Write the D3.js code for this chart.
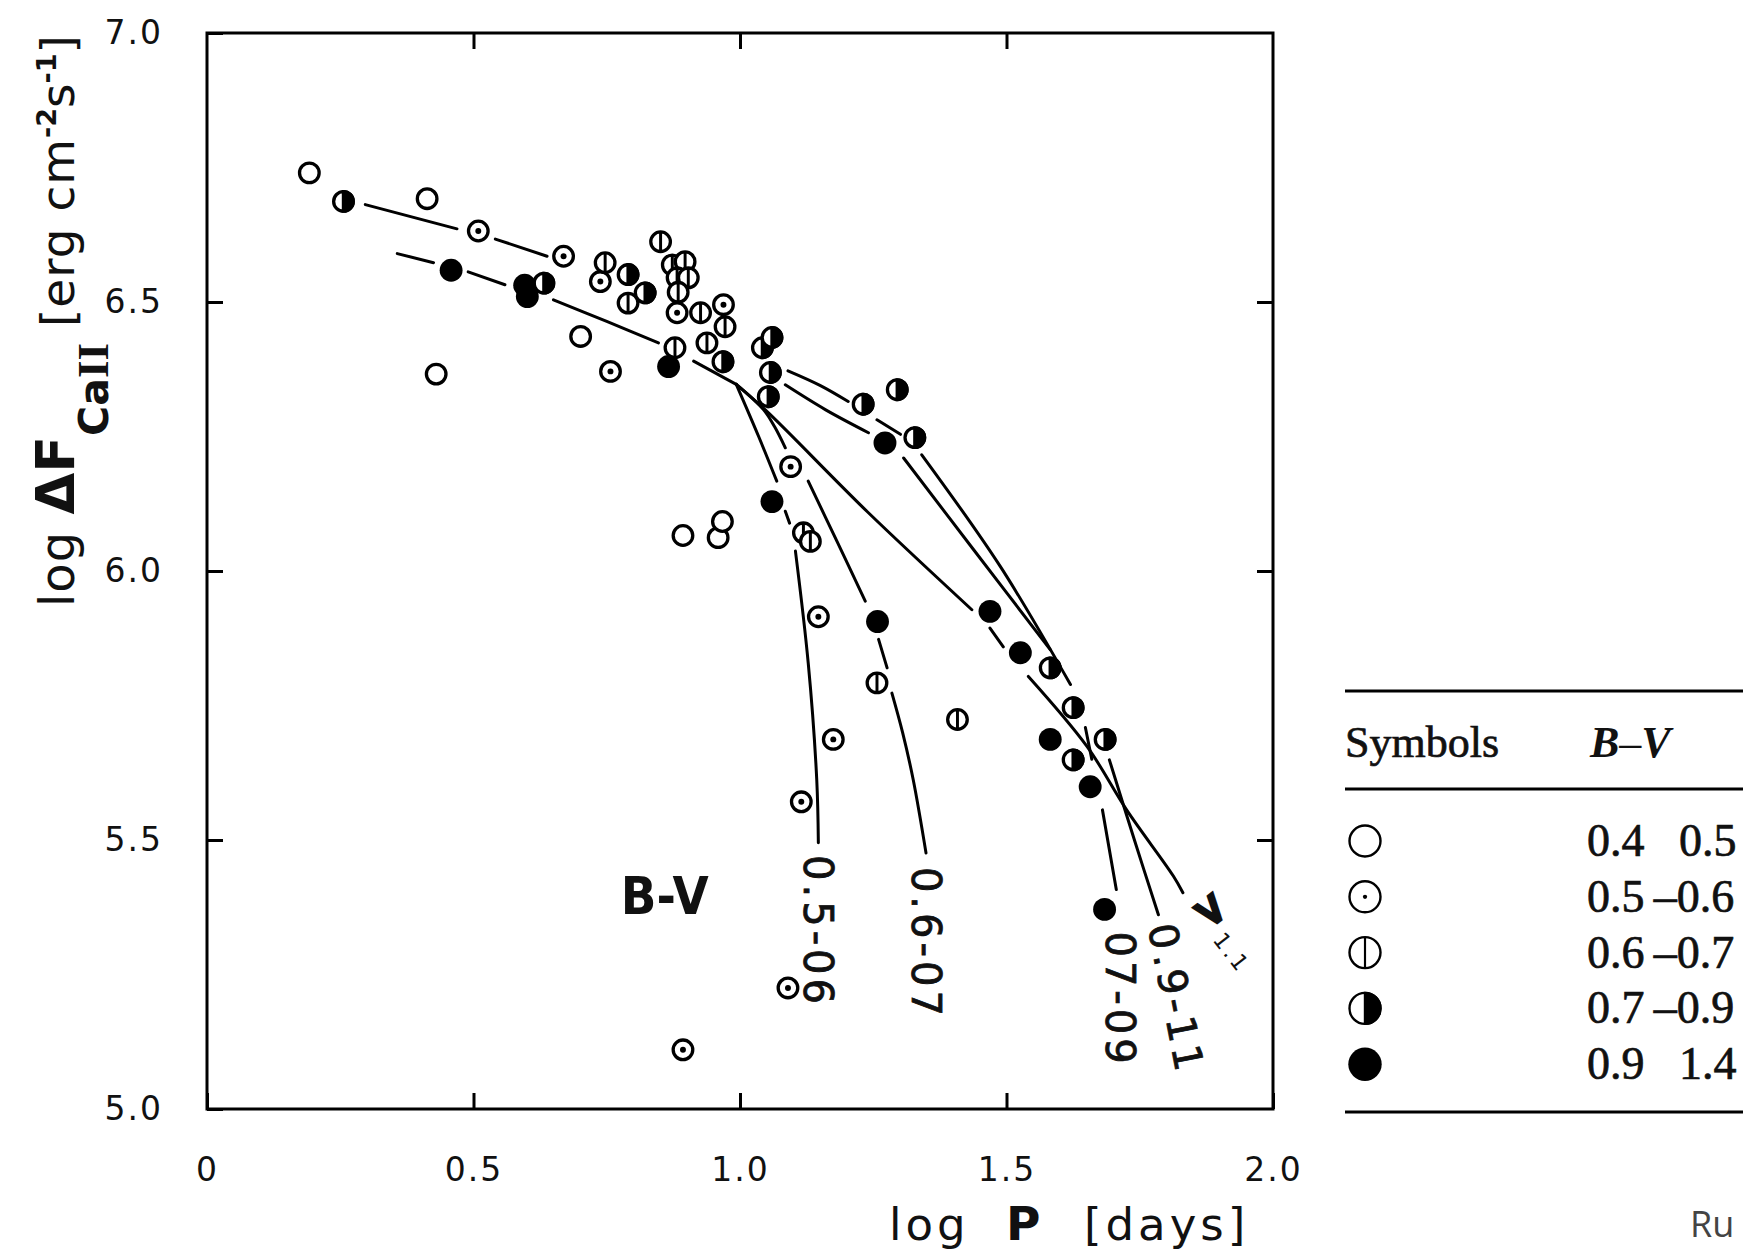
<!DOCTYPE html>
<html>
<head>
<meta charset="utf-8">
<script src="https://cdn.jsdelivr.net/npm/d3@7"></script>
<style>
  body { margin: 0; background: #fff; }
  svg { display: block; }
</style>
</head>
<body>
<svg class="chart" width="1743" height="1254"></svg>
<script>

// axis ticks
var xTicks = [0, 0.5, 1.0, 1.5, 2.0];
var xTickLabels = ["0", "0.5", "1.0", "1.5", "2.0"];
var yTicks = [5.0, 5.5, 6.0, 6.5, 7.0];
var yTickLabels = ["5.0", "5.5", "6.0", "6.5", "7.0"];

// stars, one list per B-V class, as [log P, log dF(CaII)]
var open0405 = [[0.192, 6.740], [0.413, 6.692], [0.430, 6.366], [0.701, 6.436],
                [0.893, 6.066], [0.959, 6.062], [0.967, 6.092]];
var dot0506 = [[0.509, 6.632], [0.669, 6.585], [0.757, 6.371], [0.738, 6.538],
               [0.882, 6.480], [0.969, 6.495], [1.095, 6.194], [1.147, 5.915],
               [1.175, 5.687], [1.115, 5.571], [1.090, 5.225], [0.893, 5.110]];
var bar0607 = [[0.747, 6.573], [0.851, 6.612], [0.873, 6.569], [0.897, 6.575],
               [0.882, 6.545], [0.903, 6.545], [0.884, 6.518], [0.790, 6.498],
               [0.926, 6.480], [0.972, 6.454], [0.938, 6.424], [0.878, 6.415],
               [1.119, 6.071], [1.132, 6.055], [1.257, 5.792], [1.408, 5.724]];
var half0709 = [[0.256, 6.687], [0.632, 6.535], [0.790, 6.551], [0.822, 6.517],
                [0.968, 6.389], [1.042, 6.415], [1.053, 6.324], [1.057, 6.369],
                [1.060, 6.434], [1.231, 6.310], [1.295, 6.337], [1.328, 6.248],
                [1.582, 5.820], [1.625, 5.746], [1.625, 5.649], [1.685, 5.687]];
var full0914 = [[0.458, 6.559], [0.596, 6.531], [0.601, 6.510], [0.866, 6.380],
                [1.272, 6.238], [1.060, 6.129], [1.258, 5.906], [1.469, 5.925],
                [1.526, 5.848], [1.582, 5.687], [1.657, 5.599], [1.684, 5.371]];

// drawn relations, null = a break in the line
var lineUpper = [[0.297, 6.681], [0.469, 6.636], null, [0.541, 6.617], [0.638, 6.585]];
var lineMain = [[0.357, 6.590], [0.425, 6.573], null, [0.490, 6.556], [0.559, 6.532], null,
                [0.650, 6.504], [0.750, 6.464], [0.847, 6.424], null,
                [0.913, 6.390], [0.950, 6.370], [0.993, 6.347]];
var line0506 = [[0.993, 6.347], [1.035, 6.250], [1.069, 6.167], null,
                [1.085, 6.111], [1.093, 6.089], null,
                [1.104, 6.037], [1.128, 5.829], [1.144, 5.612], [1.147, 5.495]];
var line0607 = [[0.993, 6.347], [1.044, 6.300], [1.065, 6.268], [1.085, 6.229], null,
                [1.128, 6.167], [1.182, 6.055], [1.235, 5.944], null,
                [1.260, 5.873], [1.276, 5.820], null,
                [1.285, 5.773], [1.305, 5.700], [1.325, 5.612], [1.349, 5.476]];
var line0709 = [[1.085, 6.346], [1.160, 6.300], [1.241, 6.257], null,
                [1.307, 6.210], [1.438, 6.040], [1.582, 5.854], null,
                [1.648, 5.709], [1.660, 5.650], null,
                [1.680, 5.556], [1.706, 5.408]];
var line0911 = [[1.090, 6.372], [1.150, 6.345], [1.203, 6.315], null,
                [1.257, 6.281], [1.301, 6.254], null,
                [1.341, 6.216], [1.488, 6.009], [1.620, 5.789], null,
                [1.693, 5.649], [1.740, 5.500], [1.785, 5.361]];
var lineGt11 = [[0.993, 6.347], [1.050, 6.297], [1.238, 6.111], [1.435, 5.928], null,
                [1.469, 5.894], [1.494, 5.859], null,
                [1.541, 5.804], [1.651, 5.674], [1.726, 5.555], [1.813, 5.433], [1.831, 5.402]];

// curve labels, written along the curve ends
var curveLabels = ["0.5-06", "0.6-07", "07-09", "0.9-11"];
var curveLabelAt = [[1.121, 5.472], [1.322, 5.450], [1.686, 5.330], [1.765, 5.339]];
var curveLabelAngle = [90, 90, 90, 79];

// legend table
var legendKinds = ["open", "dot", "bar", "half", "full"];
var legendRanges = ["0.4   0.5", "0.5\u2009\u20130.6", "0.6\u2009\u20130.7", "0.7\u2009\u20130.9", "0.9   1.4"];


var svg = d3.select("svg.chart");

var x = d3.scaleLinear().domain([0, 2]).range([207, 1273]);
var y = d3.scaleLinear().domain([5, 7]).range([1109, 33]);

var sans = "'DejaVu Sans', sans-serif";
var serif = "'Liberation Serif', 'Times New Roman', serif";

function styleAxis(g) {
  g.select(".domain").remove();
  g.selectAll(".tick line").attr("stroke", "#000").attr("stroke-width", 3);
  g.selectAll(".tick text")
      .attr("fill", "#111")
      .style("font-family", sans)
      .style("font-size", "33px")
      .style("letter-spacing", "2px");
}

// ticks point inward on all four sides
svg.append("g")
    .attr("transform", "translate(0," + y(5) + ")")
    .call(d3.axisBottom(x).tickValues(xTicks)
      .tickFormat(function(d, i) { return xTickLabels[i]; })
      .tickSize(-16).tickPadding(49))
    .call(styleAxis);

svg.append("g")
    .attr("transform", "translate(" + x(0) + ",0)")
    .call(d3.axisLeft(y).tickValues(yTicks)
      .tickFormat(function(d, i) { return yTickLabels[i]; })
      .tickSize(-16).tickPadding(44))
    .call(styleAxis);

svg.append("g")
    .attr("transform", "translate(0," + y(7) + ")")
    .call(d3.axisTop(x).tickValues([0.5, 1.0, 1.5]).tickFormat("").tickSize(-16))
    .call(styleAxis);

svg.append("g")
    .attr("transform", "translate(" + x(2) + ",0)")
    .call(d3.axisRight(y).tickValues([5.5, 6.0, 6.5]).tickFormat("").tickSize(-16))
    .call(styleAxis);

svg.append("rect")
    .attr("x", x(0)).attr("y", y(7))
    .attr("width", x(2) - x(0)).attr("height", y(5) - y(7))
    .attr("fill", "none").attr("stroke", "#000").attr("stroke-width", 3);

// axis titles
var yTitle = svg.append("text")
    .attr("transform", "translate(74," + 607 + ") rotate(-90)")
    .style("font-family", sans)
    .attr("fill", "#111");
yTitle.append("tspan").style("font-size", "48px").style("letter-spacing", "1px").text("log ");
yTitle.append("tspan").style("font-size", "54px").style("font-weight", "bold").text("\u0394F");
yTitle.append("tspan").attr("dy", 34).style("font-size", "41px").style("font-weight", "bold").text("Ca");
yTitle.append("tspan").style("font-family", serif).style("font-size", "45px").style("font-weight", "bold").text("II");
yTitle.append("tspan").attr("dx", 16).attr("dy", -34).style("font-size", "47px").style("letter-spacing", "1px").text("[erg cm");
yTitle.append("tspan").attr("dy", -18).style("font-size", "27px").style("font-weight", "bold").text("-2");
yTitle.append("tspan").attr("dy", 18).style("font-size", "47px").text("s");
yTitle.append("tspan").attr("dy", -18).style("font-size", "27px").style("font-weight", "bold").text("-1");
yTitle.append("tspan").attr("dy", 18).style("font-size", "47px").text("]");

var xTitle = svg.append("g")
    .style("font-family", sans)
    .attr("fill", "#111");
xTitle.append("text").attr("x", 889).attr("y", 1240)
    .style("font-size", "45px").style("letter-spacing", "4px").text("log");
xTitle.append("text").attr("x", 1006).attr("y", 1240)
    .style("font-size", "47px").style("font-weight", "bold").text("P");
xTitle.append("text").attr("x", 1084).attr("y", 1240)
    .style("font-size", "45px").style("letter-spacing", "4px").text("[days]");

// relations
var line = d3.line()
    .defined(function(d) { return d !== null; })
    .x(function(d) { return x(d[0]); })
    .y(function(d) { return y(d[1]); })
    .curve(d3.curveCatmullRom.alpha(0.5));

svg.append("g").attr("class", "relations")
    .selectAll("path")
    .data([lineUpper, lineMain, line0506, line0607, line0709, line0911, lineGt11])
    .enter().append("path")
      .attr("d", line)
      .attr("fill", "none")
      .attr("stroke", "#000")
      .attr("stroke-width", 3)
      .attr("stroke-linecap", "round");

// symbol shapes, shared by plot and legend
function addSymbol(g, kind, r, sw) {
  if (kind === "full") {
    g.append("circle").attr("r", r + sw / 2).attr("fill", "#000");
    return;
  }
  g.append("circle").attr("r", r)
      .attr("fill", "#fff").attr("stroke", "#000").attr("stroke-width", sw);
  if (kind === "dot") {
    g.append("circle").attr("r", sw * 0.9).attr("fill", "#000");
  }
  if (kind === "bar") {
    g.append("line").attr("y1", -r).attr("y2", r)
        .attr("stroke", "#000").attr("stroke-width", sw * 0.9);
  }
  if (kind === "half") {
    g.append("path")
        .attr("d", "M0," + (-r) + "A" + r + "," + r + " 0 0 1 0," + r + "Z")
        .attr("fill", "#000").attr("stroke", "#000").attr("stroke-width", sw);
  }
}

function drawStars(data, kind) {
  var g = svg.append("g").attr("class", "stars " + kind)
      .selectAll("g")
      .data(data)
      .enter().append("g")
        .attr("transform", function(d) { return "translate(" + x(d[0]) + "," + y(d[1]) + ")"; });
  addSymbol(g, kind, 9.8, 3.3);
}

drawStars(open0405, "open");
drawStars(dot0506, "dot");
drawStars(bar0607, "bar");
drawStars(half0709, "half");
drawStars(full0914, "full");

// labels in the plot
svg.append("text")
    .attr("x", x(0.859)).attr("y", y(5.3625))
    .attr("text-anchor", "middle")
    .attr("textLength", 88).attr("lengthAdjust", "spacingAndGlyphs")
    .style("font-family", sans).style("font-size", "52px").style("font-weight", "bold")
    .attr("fill", "#111")
    .text("B-V");

svg.append("g").attr("class", "curve-labels")
    .selectAll("text")
    .data(curveLabels)
    .enter().append("text")
      .attr("transform", function(d, i) {
        var p = curveLabelAt[i];
        return "translate(" + x(p[0]) + "," + y(p[1]) + ") rotate(" + curveLabelAngle[i] + ")";
      })
      .style("font-family", sans).style("font-size", "40px").style("letter-spacing", "4px")
      .attr("fill", "#111").attr("stroke", "#111").attr("stroke-width", 0.8)
      .text(function(d) { return d; });

var gtLabel = svg.append("text")
    .attr("transform", "translate(" + x(1.844) + "," + y(5.379) + ") rotate(52)")
    .style("font-family", sans)
    .attr("fill", "#111");
gtLabel.append("tspan").style("font-size", "42px").style("font-weight", "bold")
    .attr("stroke", "#111").attr("stroke-width", 3).text(">");
gtLabel.append("tspan").attr("dx", 6).attr("dy", 4).style("font-size", "22px").style("letter-spacing", "3px").text("1.1");

// legend table on the right
var legend = svg.append("g").attr("class", "legend")
    .style("font-family", serif)
    .attr("fill", "#111");

legend.selectAll("line.rule")
    .data([691, 789, 1112])
    .enter().append("line")
      .attr("class", "rule")
      .attr("x1", 1345).attr("x2", 1743)
      .attr("y1", function(d) { return d; }).attr("y2", function(d) { return d; })
      .attr("stroke", "#000").attr("stroke-width", 3);

legend.append("text").attr("x", 1345).attr("y", 757)
    .style("font-size", "44px").attr("stroke", "#111").attr("stroke-width", 0.7)
    .text("Symbols");
var bv = legend.append("text").attr("x", 1590).attr("y", 757)
    .style("font-size", "44px").style("font-style", "italic").style("font-weight", "bold");
bv.append("tspan").text("B");
bv.append("tspan").style("font-weight", "normal").style("font-style", "normal").text("\u2013");
bv.append("tspan").text("V");

var rows = legend.selectAll("g.row")
    .data(legendKinds)
    .enter().append("g")
      .attr("class", "row")
      .attr("transform", function(d, i) { return "translate(1365," + (841 + i * 55.8) + ")"; });

rows.each(function(d) { addSymbol(d3.select(this), d, 15.5, 2.4); });

rows.append("text")
    .attr("x", 222).attr("y", 15)
    .style("font-size", "46px")
    .style("white-space", "pre")
    .attr("xml:space", "preserve")
    .attr("stroke", "#111").attr("stroke-width", 0.7)
    .text(function(d, i) { return legendRanges[i]; });

// source line, only its start fits on the page
svg.append("text")
    .attr("x", 1690).attr("y", 1237)
    .style("font-family", "'Open Sans', sans-serif").style("font-size", "36px")
    .attr("fill", "#444")
    .text("Ru");

</script>
</body>
</html>
